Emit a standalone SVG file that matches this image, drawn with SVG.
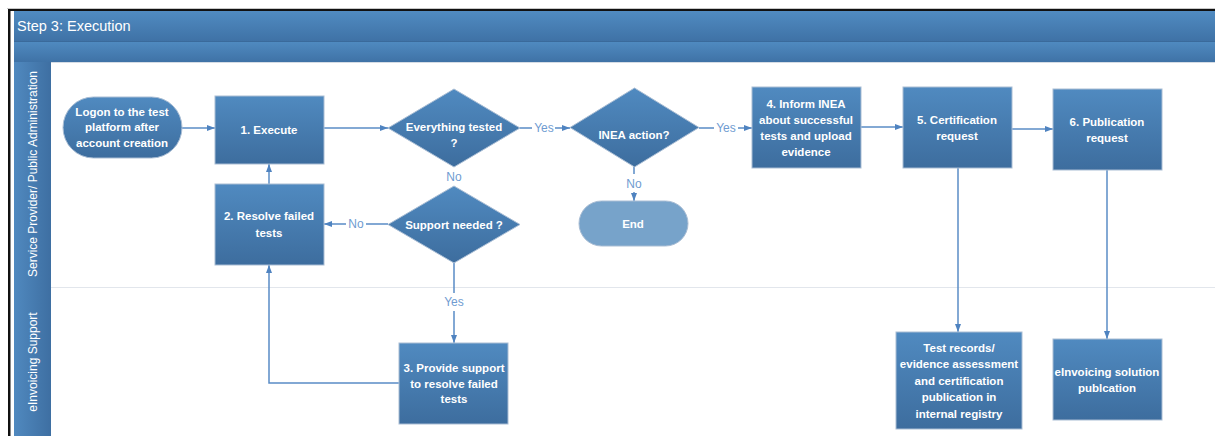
<svg xmlns="http://www.w3.org/2000/svg" width="1215" height="436" viewBox="0 0 1215 436">
<defs>
<linearGradient id="gNode" x1="0" y1="0" x2="0" y2="1">
<stop offset="0" stop-color="#508AC0"/><stop offset="1" stop-color="#3D6D9E"/>
</linearGradient>
<linearGradient id="gBar" x1="0" y1="0" x2="0" y2="1">
<stop offset="0" stop-color="#508BC1"/><stop offset="1" stop-color="#3F72A6"/>
</linearGradient>
<linearGradient id="gLane" x1="0" y1="0" x2="1" y2="0">
<stop offset="0" stop-color="#5089BF"/><stop offset="1" stop-color="#3E6FA2"/>
</linearGradient>
<marker id="arr" viewBox="0 0 8 6" refX="8" refY="3" markerWidth="8" markerHeight="6" orient="auto" markerUnits="userSpaceOnUse">
<path d="M0,0 L8,3 L0,6 z" fill="#4F83C0"/>
</marker>
<style>
.node{fill:url(#gNode);stroke:#A9BDD4;stroke-width:1}
.end{fill:#77A3CA;stroke:#A9BDD4;stroke-width:1}
.t{font-family:"Liberation Sans",Arial,sans-serif;font-size:11.5px;font-weight:bold;fill:#FFFFFF;text-anchor:middle}
.lbl{font-family:"Liberation Sans",Arial,sans-serif;font-size:12px;fill:#6F9CD1;text-anchor:middle}
.lane{font-family:"Liberation Sans",Arial,sans-serif;font-size:12px;fill:#FFFFFF;text-anchor:middle}
.c{fill:none;stroke:#5A8CC6;stroke-width:1.5}
</style>
</defs>
<rect x="0" y="0" width="1215" height="436" fill="#FFFFFF"/>
<line x1="7" y1="8.5" x2="1215" y2="8.5" stroke="#C8C8C8" stroke-width="1"/>
<rect x="8" y="9" width="1207" height="2" fill="#111111"/>
<rect x="8" y="9" width="2.5" height="427" fill="#111111"/>
<g id="pool">
<rect x="14" y="11" width="1201" height="30" fill="url(#gBar)"/>
<rect x="14" y="41" width="1201" height="21" fill="url(#gBar)"/>
<line x1="14" y1="41.5" x2="1215" y2="41.5" stroke="#3A6A9B" stroke-width="1"/>
<line x1="51" y1="62.5" x2="1215" y2="62.5" stroke="#D5DCE5" stroke-width="1"/>
<text x="17" y="31" font-family="'Liberation Sans',Arial,sans-serif" font-size="14.5" fill="#FFFFFF">Step 3: Execution</text>
</g>
<g id="lane1">
<rect x="14" y="62" width="37" height="225" fill="url(#gLane)"/>
<text class="lane" transform="translate(37,174) rotate(-90)">Service Provider/ Public Administration</text>
</g>
<g id="lane2">
<rect x="14" y="287" width="37" height="149" fill="url(#gLane)"/>
<text class="lane" transform="translate(37,362) rotate(-90)">eInvoicing Support</text>
</g>
<line x1="51" y1="287.5" x2="1215" y2="287.5" stroke="#E2E6EC" stroke-width="1"/>

<g id="connectors">
<path class="c" d="M182,128 H215" marker-end="url(#arr)"/>
<path class="c" d="M324,128 H388" marker-end="url(#arr)"/>
<path class="c" d="M520,128 H532 M555,128 H570" marker-end="url(#arr)"/>
<path class="c" d="M699,128 H714 M738,128 H752" marker-end="url(#arr)"/>
<path class="c" d="M634,167 V174 M634,192 V201" marker-end="url(#arr)"/>
<path class="c" d="M861,127 H903" marker-end="url(#arr)"/>
<path class="c" d="M1012,129 H1053" marker-end="url(#arr)"/>
<path class="c" d="M958,168 V332" marker-end="url(#arr)"/>
<path class="c" d="M1107,170 V339" marker-end="url(#arr)"/>
<path class="c" d="M388,224 H366 M346,224 H324" marker-end="url(#arr)"/>
<path class="c" d="M269,184 V164" marker-end="url(#arr)"/>
<path class="c" d="M454,263 V293 M454,311 V343" marker-end="url(#arr)"/>
<path class="c" d="M399,383 H269 V265" marker-end="url(#arr)"/>
<text class="lbl" x="544" y="132">Yes</text>
<text class="lbl" x="726" y="132">Yes</text>
<text class="lbl" x="634" y="188">No</text>
<text class="lbl" x="454" y="181">No</text>
<text class="lbl" x="356" y="228">No</text>
<text class="lbl" x="454" y="306">Yes</text>
</g>

<g id="start">
<rect class="node" x="63" y="97" width="119" height="61" rx="30.5" ry="30.5"/>
<text class="t" x="122" y="116">Logon to the test</text>
<text class="t" x="122" y="131">platform after</text>
<text class="t" x="122" y="147">account creation</text>
</g>
<g id="execute">
<rect class="node" x="215" y="96" width="109" height="68"/>
<text class="t" x="269" y="134">1. Execute</text>
</g>
<g id="resolve">
<rect class="node" x="215" y="184" width="109" height="81"/>
<text class="t" x="269" y="220">2. Resolve failed</text>
<text class="t" x="269" y="237">tests</text>
</g>
<g id="everything">
<polygon class="node" points="454,89 520,128 454,167 388,128"/>
<text class="t" x="454" y="131">Everything tested</text>
<text class="t" x="454" y="147">?</text>
</g>
<g id="support">
<polygon class="node" points="454,186 520,224.5 454,263 388,224.5"/>
<text class="t" x="454" y="229">Support needed ?</text>
</g>
<g id="inea">
<polygon class="node" points="634.5,88 699,127.5 634.5,167 570,127.5"/>
<text class="t" x="634" y="139">INEA action?</text>
</g>
<g id="end">
<rect class="end" x="579" y="201" width="109" height="45" rx="22.5" ry="22.5"/>
<text class="t" x="633" y="228">End</text>
</g>
<g id="inform">
<rect class="node" x="752" y="87" width="109" height="81"/>
<text class="t" x="806" y="108">4. Inform INEA</text>
<text class="t" x="806" y="124">about successful</text>
<text class="t" x="806" y="140">tests and upload</text>
<text class="t" x="806" y="156">evidence</text>
</g>
<g id="certification">
<rect class="node" x="903" y="87" width="109" height="81"/>
<text class="t" x="957" y="124">5. Certification</text>
<text class="t" x="957" y="140">request</text>
</g>
<g id="publication">
<rect class="node" x="1053" y="89" width="109" height="81"/>
<text class="t" x="1107" y="126">6. Publication</text>
<text class="t" x="1107" y="142">request</text>
</g>
<g id="provide">
<rect class="node" x="399" y="343" width="109" height="81"/>
<text class="t" x="454" y="372">3. Provide support</text>
<text class="t" x="454" y="388">to resolve failed</text>
<text class="t" x="454" y="403">tests</text>
</g>
<g id="records">
<rect class="node" x="896" y="332" width="126" height="97"/>
<text class="t" x="959" y="352">Test records/</text>
<text class="t" x="959" y="368">evidence assessment</text>
<text class="t" x="959" y="385">and certification</text>
<text class="t" x="959" y="401">publication in</text>
<text class="t" x="959" y="418">internal registry</text>
</g>
<g id="einvoicing">
<rect class="node" x="1053" y="339" width="109" height="81"/>
<text class="t" x="1107" y="376">eInvoicing solution</text>
<text class="t" x="1107" y="392">publcation</text>
</g>
</svg>
